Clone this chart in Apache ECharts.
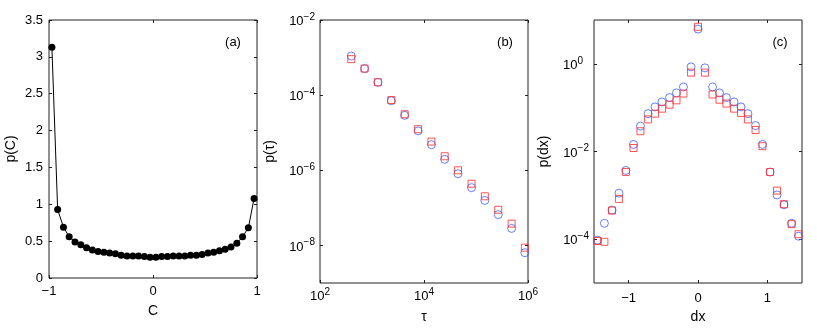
<!DOCTYPE html>
<html lang="en">
<head>
<meta charset="UTF-8">
<title>p(C), p(tau), p(dx)</title>
<script src="https://cdn.jsdelivr.net/npm/echarts@6/dist/echarts.min.js"></script>
<style>
  html, body { margin: 0; padding: 0; background: #fff; }
  #chart { width: 817px; height: 331px; }
</style>
</head>
<body>
<div id="chart"></div>
<script>
// (a) p(C)
var cBins = [-0.972, -0.917, -0.861, -0.806, -0.75, -0.694, -0.639, -0.583, -0.528, -0.472, -0.417, -0.361,
  -0.306, -0.25, -0.194, -0.139, -0.083, -0.028, 0.028, 0.083, 0.139, 0.194, 0.25, 0.306,
  0.361, 0.417, 0.472, 0.528, 0.583, 0.639, 0.694, 0.75, 0.806, 0.861, 0.917, 0.972];
var pC = [3.13, 0.93, 0.69, 0.56, 0.49, 0.45, 0.41, 0.38, 0.36, 0.35, 0.34, 0.33,
  0.31, 0.30, 0.30, 0.30, 0.29, 0.28, 0.28, 0.29, 0.29, 0.30, 0.30, 0.30,
  0.31, 0.31, 0.32, 0.34, 0.35, 0.37, 0.39, 0.42, 0.47, 0.56, 0.68, 1.08];

// (b) p(tau)
var tau = [400, 720, 1300, 2350, 4250, 7700, 13900, 25000, 45000, 82000, 148000, 268000, 484000, 870000];
var pTauBlue = [1.1e-3, 5.1e-4, 2.2e-4, 7.1e-5, 2.9e-5, 1.12e-5, 4.8e-6, 1.96e-6, 8.1e-7, 3.45e-7, 1.58e-7, 6.6e-8, 2.84e-8, 6.4e-9];
var pTauRed = [9.1e-4, 5.1e-4, 2.2e-4, 7.4e-5, 3.1e-5, 1.24e-5, 5.8e-6, 2.36e-6, 1.0e-6, 4.4e-7, 2.03e-7, 8.9e-8, 3.8e-8, 8.7e-9];

// (c) p(dx)
var dx = [-1.45, -1.35, -1.24, -1.14, -1.04, -0.93, -0.83, -0.72, -0.62, -0.52, -0.41, -0.31, -0.21, -0.1, 0,
  0.1, 0.21, 0.31, 0.41, 0.52, 0.62, 0.72, 0.83, 0.93, 1.04, 1.14, 1.24, 1.35, 1.45];
var pDxBlue = [9.5e-5, 2.3e-4, 4.6e-4, 1.12e-3, 3.7e-3, 1.45e-2, 3.8e-2, 7.3e-2, 0.104, 0.135, 0.17, 0.217, 0.297, 0.853, 6.2,
  0.81, 0.297, 0.217, 0.17, 0.135, 0.104, 0.073, 0.039, 0.0145, 3.4e-3, 1.02e-3, 6.1e-4, 2.3e-4, 1.17e-4];
var pDxRed = [9.1e-5, 8.7e-5, 4.5e-4, 8.3e-4, 3.4e-3, 1.2e-2, 2.9e-2, 5.4e-2, 7.3e-2, 9.5e-2, 0.117, 0.147, 0.21, 0.63, 7.0,
  0.63, 0.2, 0.152, 0.124, 0.095, 0.076, 0.054, 0.031, 0.0132, 3.4e-3, 1.28e-3, 6.3e-4, 2.2e-4, 1.3e-4];

// tick labels
var cTicksX = [-1, 0, 1];
var tauTicksX = [1e2, 1e4, 1e6];
var tauTicksY = [1e-8, 1e-6, 1e-4, 1e-2];
var dxTicksX = [-1, 0, 1];
var dxTicksY = [1e-4, 1e-2, 1];

var FONT = 'Liberation Sans, Arial, Helvetica, sans-serif';
var BLUE = '#3f5fff';
var RED = '#ff2a2a';

function zip(xs, ys) {
  return xs.map(function (x, i) { return [x, ys[i]]; });
}
function minus(v) {
  return String(v).replace('-', '\u2212');
}
function pow10(v) {
  var e = Math.round(Math.log10(v));
  return '{b|10}{s|' + minus(e) + '}';
}
// y labels: pad short exponents so every "10" lines up
function pow10y(v) {
  var e = Math.round(Math.log10(v));
  return '{b|10}{' + (e < 0 ? 's' : 'p') + '|' + minus(e) + '}';
}
var base = { fontSize: 13, fontFamily: FONT, color: '#000', lineHeight: 16, padding: [4, 0, 0, 0], verticalAlign: 'bottom' };
var sup = { fontSize: 10, fontFamily: FONT, color: '#000', lineHeight: 10, verticalAlign: 'top' };
var richX = { b: base, s: sup };
var richY = { b: base, s: sup, p: Object.assign({}, sup, { padding: [0, 6, 0, 0] }) };

var tick = { show: true, inside: true, length: 3, lineStyle: { color: '#222', width: 1 } };
var noLine = { show: false, onZero: false };
var labelStyle = { color: '#000', fontSize: 13, fontFamily: FONT };
var nameStyle = { color: '#000', fontSize: 14, fontFamily: FONT };

// mirrored tick axis (top / right), no labels
function mirror(axis, pos) {
  var o = Object.assign({}, axis);
  o.position = pos;
  o.name = '';
  o.axisLabel = { show: false };
  return o;
}

var ax = {
  type: 'value', gridIndex: 0, min: -1, max: 1, interval: 1,
  axisLine: noLine, axisTick: tick, splitLine: { show: false },
  axisLabel: Object.assign({ margin: 7, formatter: minus }, labelStyle),
  name: 'C', nameLocation: 'middle', nameGap: 26, nameTextStyle: nameStyle
};
var ay = {
  type: 'value', gridIndex: 0, min: 0, max: 3.5, interval: 0.5,
  axisLine: noLine, axisTick: tick, splitLine: { show: false },
  axisLabel: Object.assign({ margin: 6 }, labelStyle),
  name: 'p(C)', nameLocation: 'middle', nameGap: 31, nameTextStyle: nameStyle
};
var bx = {
  type: 'log', logBase: 10, gridIndex: 1, min: 1e2, max: 1e6,
  axisLine: noLine, splitLine: { show: false },
  axisTick: Object.assign({ customValues: tauTicksX }, tick),
  axisLabel: { margin: 4, customValues: tauTicksX, formatter: pow10, rich: richX },
  name: '\u03c4', nameLocation: 'middle', nameGap: 27, nameTextStyle: nameStyle
};
var by = {
  type: 'log', logBase: 10, gridIndex: 1, min: 1e-9, max: 1e-2,
  axisLine: noLine, splitLine: { show: false },
  axisTick: Object.assign({ customValues: tauTicksY }, tick),
  axisLabel: { margin: 5, customValues: tauTicksY, formatter: pow10y, rich: richY },
  name: 'p(\u03c4)', nameLocation: 'middle', nameGap: 43, nameTextStyle: nameStyle
};
var cx = {
  type: 'value', gridIndex: 2, min: -1.5, max: 1.5,
  axisLine: noLine, splitLine: { show: false },
  axisTick: Object.assign({ customValues: dxTicksX }, tick),
  axisLabel: Object.assign({ margin: 9, customValues: dxTicksX, formatter: minus }, labelStyle),
  name: 'dx', nameLocation: 'middle', nameGap: 24, nameTextStyle: nameStyle
};
var cy = {
  type: 'log', logBase: 10, gridIndex: 2, min: 1e-5, max: 1e1,
  axisLine: noLine, splitLine: { show: false },
  axisTick: Object.assign({ customValues: dxTicksY }, tick),
  axisLabel: { margin: 5, customValues: dxTicksY, formatter: pow10y, rich: richY },
  name: 'p(dx)', nameLocation: 'middle', nameGap: 43, nameTextStyle: nameStyle
};

var gridStyle = { show: true, borderColor: '#222', borderWidth: 1, backgroundColor: 'transparent', containLabel: false };

var chart = echarts.init(document.getElementById('chart'));
chart.setOption({
  animation: false,
  backgroundColor: '#fff',
  grid: [
    Object.assign({ left: 49, top: 20, width: 208, height: 258 }, gridStyle),
    Object.assign({ left: 320, top: 20, width: 208, height: 263 }, gridStyle),
    Object.assign({ left: 594, top: 20, width: 208, height: 263 }, gridStyle)
  ],
  xAxis: [ax, bx, cx, mirror(ax, 'top'), mirror(bx, 'top'), mirror(cx, 'top')],
  yAxis: [ay, by, cy, mirror(ay, 'right'), mirror(by, 'right'), mirror(cy, 'right')],
  graphic: [
    { type: 'text', x: 233, y: 42, style: { text: '(a)', align: 'center', verticalAlign: 'middle', fontSize: 13, fontFamily: FONT, fill: '#000' } },
    { type: 'text', x: 505, y: 42, style: { text: '(b)', align: 'center', verticalAlign: 'middle', fontSize: 13, fontFamily: FONT, fill: '#000' } },
    { type: 'text', x: 780, y: 42, style: { text: '(c)', align: 'center', verticalAlign: 'middle', fontSize: 13, fontFamily: FONT, fill: '#000' } }
  ],
  series: [
    {
      type: 'line', xAxisIndex: 0, yAxisIndex: 0, data: zip(cBins, pC),
      symbol: 'circle', symbolSize: 7, showAllSymbol: true,
      lineStyle: { color: '#000', width: 1 }, itemStyle: { color: '#000' }
    },
    {
      type: 'scatter', xAxisIndex: 1, yAxisIndex: 1, data: zip(tau, pTauBlue),
      symbol: 'circle', symbolSize: 8,
      itemStyle: { color: 'rgba(0,0,0,0)', borderColor: BLUE, borderWidth: 1 }
    },
    {
      type: 'scatter', xAxisIndex: 1, yAxisIndex: 1, data: zip(tau, pTauRed),
      symbol: 'rect', symbolSize: 7,
      itemStyle: { color: 'rgba(0,0,0,0)', borderColor: RED, borderWidth: 1 }
    },
    {
      type: 'scatter', xAxisIndex: 2, yAxisIndex: 2, data: zip(dx, pDxBlue),
      symbol: 'circle', symbolSize: 8,
      itemStyle: { color: 'rgba(0,0,0,0)', borderColor: BLUE, borderWidth: 1 }
    },
    {
      type: 'scatter', xAxisIndex: 2, yAxisIndex: 2, data: zip(dx, pDxRed),
      symbol: 'rect', symbolSize: 7,
      itemStyle: { color: 'rgba(0,0,0,0)', borderColor: RED, borderWidth: 1 }
    }
  ]
});
</script>
</body>
</html>
